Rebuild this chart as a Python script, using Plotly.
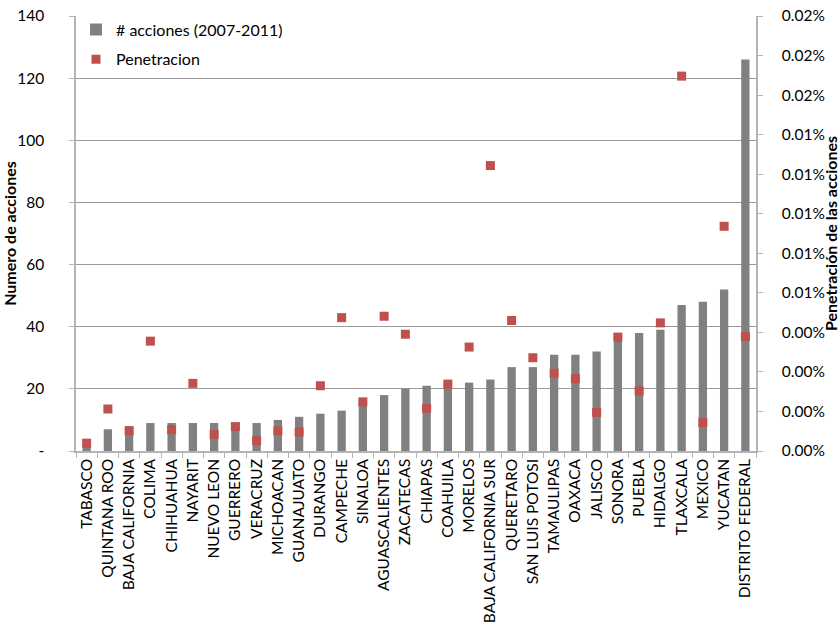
import plotly.graph_objects as go

estados = ["TABASCO", "QUINTANA ROO", "BAJA CALIFORNIA", "COLIMA", "CHIHUAHUA", "NAYARIT",
           "NUEVO LEON", "GUERRERO", "VERACRUZ", "MICHOACAN", "GUANAJUATO", "DURANGO",
           "CAMPECHE", "SINALOA", "AGUASCALIENTES", "ZACATECAS", "CHIAPAS", "COAHUILA",
           "MORELOS", "BAJA CALIFORNIA SUR", "QUERETARO", "SAN LUIS POTOSI", "TAMAULIPAS",
           "OAXACA", "JALISCO", "SONORA", "PUEBLA", "HIDALGO", "TLAXCALA", "MEXICO",
           "YUCATAN", "DISTRITO FEDERAL"]

acciones = [2, 7, 8, 9, 9, 9, 9, 9, 9, 10, 11, 12, 13, 16, 18, 20, 21, 22, 22, 23,
            27, 27, 31, 31, 32, 37, 38, 39, 47, 48, 52, 126]

# penetration in percent
penetracion = [0.00033, 0.00177, 0.00085, 0.00463, 0.00090, 0.00285, 0.00070, 0.00103,
               0.00043, 0.00085, 0.00080, 0.00275, 0.00562, 0.00207, 0.00568, 0.00492,
               0.00180, 0.00282, 0.00438, 0.01203, 0.00550, 0.00393, 0.00328, 0.00305,
               0.00163, 0.00480, 0.00253, 0.00540, 0.01580, 0.00120, 0.00947, 0.00483]

left_ticks = [0, 20, 40, 60, 80, 100, 120, 140]
left_text = ["-", "20", "40", "60", "80", "100", "120", "140"]

right_ticks = [0, 0.0016667, 0.0033333, 0.005, 0.0066667, 0.0083333, 0.01,
               0.0116667, 0.0133333, 0.015, 0.0166667, 0.0183333]
right_text = ["0.00%", "0.00%", "0.00%", "0.00%", "0.01%", "0.01%", "0.01%",
              "0.01%", "0.01%", "0.02%", "0.02%", "0.02%"]

FONT = "Lato"
AXC = "#b4b4b4"

fig = go.Figure()
fig.add_trace(go.Bar(
    x=estados, y=acciones, name="# acciones (2007-2011)", legendgroup="a",
    marker=dict(color="#808080", line=dict(width=0)), width=0.39,
))
fig.add_trace(go.Scatter(
    x=estados, y=penetracion, name="Penetracion", yaxis="y2", mode="markers",
    legendgroup="b",
    marker=dict(symbol="square", size=9, color="#C0504D"),
))

fig.update_layout(
    width=840, height=628,
    margin=dict(l=76, r=84, t=16, b=177),
    paper_bgcolor="white", plot_bgcolor="white",
    font=dict(family=FONT, size=16, color="black"),
    showlegend=True,
    legend=dict(x=0.0, y=1.008, xanchor="left", yanchor="top",
                bgcolor="rgba(0,0,0,0)", font=dict(size=16), tracegroupgap=6,
                itemwidth=30),
    xaxis=dict(
        type="category", range=[-0.5, len(estados) - 0.5],
        tickangle=-90, tickson="boundaries",
        ticks="outside", ticklen=5, tickcolor=AXC,
        showline=True, linecolor=AXC, linewidth=1.5,
        showgrid=False, tickfont=dict(size=15.5), automargin=False,
    ),
    yaxis=dict(
        range=[0, 140], tickvals=left_ticks, ticktext=left_text,
        ticks="outside", ticklen=5, tickcolor=AXC,
        showline=True, linecolor=AXC, linewidth=1.5,
        showgrid=True, gridcolor="#9a9a9a", gridwidth=1,
        zeroline=False, tickfont=dict(size=15.5), automargin=False,
        ticklabelstandoff=22,
        title=dict(text="<b>Numero de acciones</b>", font=dict(size=16), standoff=2),
    ),
    yaxis2=dict(
        overlaying="y", side="right", range=[0, 0.0183333],
        tickvals=right_ticks, ticktext=right_text,
        ticks="outside", ticklen=5, tickcolor=AXC,
        showline=True, linecolor=AXC, linewidth=1.5,
        showgrid=False, zeroline=False, tickfont=dict(size=15.5), automargin=False,
        ticklabelstandoff=16,
        title=dict(text="<b>Penetración de las acciones</b>", font=dict(size=16), standoff=0),
    ),
)

fig.write_html("out.html")
